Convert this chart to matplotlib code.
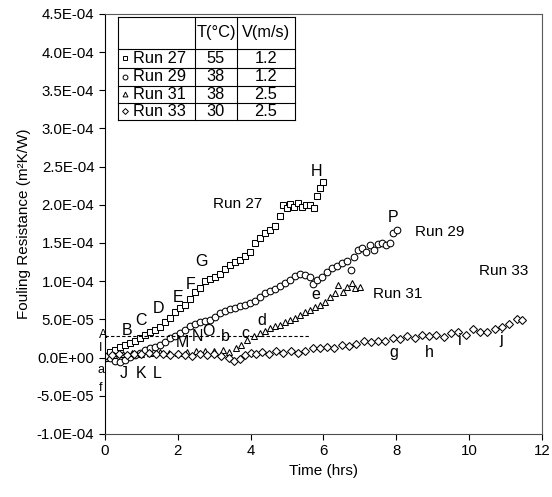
import numpy as np
import matplotlib
matplotlib.use("Agg")
import matplotlib.pyplot as plt
from matplotlib.ticker import FuncFormatter, MultipleLocator

plt.rcParams['font.family'] = ['Liberation Sans', 'DejaVu Sans']
plt.rcParams['font.size'] = 10

# ========== DATA (time in hrs, resistance in 1E-04 m2K/W) ==========

t27 = [0.0, 0.14, 0.27, 0.41, 0.55, 0.69, 0.82, 0.96, 1.10, 1.24, 1.37, 1.51, 1.65, 1.79,
       1.92, 2.06, 2.20, 2.34, 2.47, 2.61, 2.75, 2.88, 3.02, 3.16, 3.30, 3.43, 3.57, 3.71,
       3.85, 3.98, 4.12, 4.26, 4.40, 4.53, 4.67, 4.81, 4.89, 5.00, 5.08, 5.19, 5.30, 5.41,
       5.52, 5.63, 5.74, 5.82, 5.91, 5.99]
r27 = [0.02, 0.07, 0.10, 0.14, 0.16, 0.19, 0.22, 0.26, 0.30, 0.33, 0.36, 0.40, 0.46, 0.52,
       0.60, 0.65, 0.69, 0.77, 0.86, 0.91, 1.00, 1.03, 1.05, 1.09, 1.16, 1.21, 1.25, 1.28,
       1.33, 1.38, 1.50, 1.57, 1.63, 1.67, 1.72, 1.85, 2.00, 1.96, 2.01, 1.97, 2.02, 1.97,
       2.00, 2.00, 1.96, 2.11, 2.22, 2.30]

t29 = [0.0, 0.14, 0.27, 0.41, 0.55, 0.69, 0.82, 0.96, 1.10, 1.24, 1.37, 1.51, 1.65, 1.79,
       1.92, 2.06, 2.20, 2.34, 2.47, 2.61, 2.75, 2.88, 3.02, 3.16, 3.30, 3.43, 3.57, 3.71,
       3.85, 3.98, 4.12, 4.26, 4.40, 4.53, 4.67, 4.81, 4.95, 5.08, 5.22, 5.36, 5.49, 5.63,
       5.71, 5.82, 5.96, 6.10, 6.24, 6.37, 6.51, 6.65, 6.76, 6.84, 6.95, 7.06, 7.17, 7.28,
       7.39, 7.50, 7.61, 7.72, 7.83, 7.91, 8.02]
r29 = [0.00, 0.00, -0.04, -0.06, -0.03, 0.01, 0.03, 0.06, 0.10, 0.13, 0.14, 0.16, 0.20, 0.26,
       0.28, 0.32, 0.36, 0.41, 0.44, 0.47, 0.48, 0.49, 0.53, 0.58, 0.61, 0.64, 0.65, 0.68,
       0.69, 0.71, 0.74, 0.79, 0.84, 0.87, 0.90, 0.94, 0.98, 1.02, 1.07, 1.09, 1.08, 1.05,
       0.96, 1.02, 1.05, 1.12, 1.17, 1.20, 1.24, 1.26, 1.15, 1.31, 1.41, 1.44, 1.38, 1.47,
       1.41, 1.49, 1.50, 1.47, 1.50, 1.63, 1.67]

t31 = [0.0, 0.25, 0.5, 0.75, 1.0, 1.25, 1.5, 1.75, 2.0, 2.25, 2.5, 2.75, 3.0, 3.25, 3.4,
       3.6, 3.75, 3.9, 4.1, 4.26, 4.4, 4.53, 4.67, 4.81, 4.95, 5.08, 5.22, 5.36, 5.5, 5.63,
       5.77, 5.91, 6.04, 6.18, 6.32, 6.40, 6.54, 6.65, 6.79, 6.87, 7.0]
r31 = [0.0, 0.03, 0.05, 0.06, 0.05, 0.06, 0.07, 0.06, 0.06, 0.07, 0.08, 0.08, 0.09, 0.10, 0.07,
       0.12, 0.17, 0.23, 0.28, 0.32, 0.35, 0.39, 0.41, 0.43, 0.46, 0.49, 0.52, 0.56, 0.59, 0.62,
       0.66, 0.69, 0.73, 0.79, 0.84, 0.95, 0.86, 0.92, 0.98, 0.91, 0.92]

t33 = [0.0, 0.2, 0.4, 0.6, 0.8, 1.0, 1.2, 1.4, 1.6, 1.8, 2.0, 2.2, 2.4, 2.6, 2.8, 3.0, 3.2,
       3.4, 3.55, 3.7, 3.85, 4.0, 4.15, 4.3, 4.5, 4.7, 4.9, 5.1, 5.3, 5.5, 5.7, 5.9, 6.1,
       6.3, 6.5, 6.7, 6.9, 7.1, 7.3, 7.5, 7.7, 7.9, 8.1, 8.3, 8.5, 8.7, 8.9, 9.1, 9.3, 9.5,
       9.7, 9.9, 10.1, 10.3, 10.5, 10.7, 10.9, 11.1, 11.3, 11.45]
r33 = [0.02, 0.03, 0.05, 0.03, 0.05, 0.04, 0.06, 0.04, 0.05, 0.03, 0.05, 0.03, 0.02, 0.04,
       0.03, 0.05, 0.02, 0.00, -0.05, -0.02, 0.03, 0.06, 0.05, 0.07, 0.05, 0.08, 0.06, 0.09,
       0.06, 0.09, 0.13, 0.12, 0.14, 0.13, 0.16, 0.15, 0.18, 0.21, 0.20, 0.22, 0.21, 0.25,
       0.24, 0.28, 0.26, 0.30, 0.28, 0.30, 0.27, 0.32, 0.34, 0.30, 0.37, 0.33, 0.34, 0.38,
       0.40, 0.44, 0.50, 0.49]

runs     = ["Run 27", "Run 29", "Run 31", "Run 33"]
temps    = ["55", "38", "38", "30"]
vels     = ["1.2", "1.2", "2.5", "2.5"]
markers  = ["s", "o", "^", "D"]

# letters at the left edge of the axis (smaller)
edge_letters = ["A", "I", "a", "f"]
edge_x       = [-0.06, -0.11, -0.11, -0.11]
edge_y       = [0.30, 0.13, -0.16, -0.40]

# letter annotations in the plot (x hrs, y 1E-04)
letters   = ["B", "C", "D", "E", "F", "G", "H", "J", "K", "L", "M",
             "N", "O", "P", "b", "c", "d", "e", "g", "h", "i", "j"]
letter_x  = [0.60, 0.99, 1.46, 2.01, 2.34, 2.66, 5.82, 0.52,
             0.99, 1.43, 2.14, 2.55, 2.83, 7.91, 3.32, 3.85, 4.31, 5.80, 7.94, 8.90, 9.73, 10.88]
letter_y  = [0.36, 0.49, 0.64, 0.78, 0.96, 1.26, 2.43, -0.21,
             -0.21, -0.21, 0.20, 0.27, 0.34, 1.83, 0.27, 0.32, 0.48, 0.83, 0.06, 0.06, 0.22, 0.23]

run_lab_x = [3.63, 9.20, 8.05, 10.96]
run_lab_y = [2.01, 1.64, 0.83, 1.13]

ref_level = 0.28   # dashed reference line
ref_end   = 5.6

# ========== PLOTTING ==========

fig = plt.figure(figsize=(5.52, 4.97), dpi=100)
ax = fig.add_axes([0.190, 0.127, 0.792, 0.845])

series = [(t27, r27), (t29, r29), (t31, r31), (t33, r33)]
sizes = [4.8, 4.8, 5.0, 4.0]
for (t, r), m, ms in zip(series, markers, sizes):
    ax.plot(t, np.array(r) * 1e-4, linestyle="none", marker=m, ms=ms,
            mfc="white", mec="black", mew=0.75)

ax.plot([0, ref_end], [ref_level * 1e-4] * 2, "k--", lw=0.8, dashes=(3, 2))

for s, x, y in zip(edge_letters, edge_x, edge_y):
    ax.text(x, y * 1e-4, s, ha="center", va="center", fontsize=9)
for s, x, y in zip(letters, letter_x, letter_y):
    ax.text(x, y * 1e-4, s, ha="center", va="center", fontsize=11.5)
for s, x, y in zip(runs, run_lab_x, run_lab_y):
    ax.text(x, y * 1e-4, s, ha="center", va="center", fontsize=11)

ax.set_xlim(0, 12)
ax.set_ylim(-1e-4, 4.5e-4)
ax.xaxis.set_major_locator(MultipleLocator(2))
ax.yaxis.set_major_locator(MultipleLocator(5e-5))
ax.yaxis.set_major_formatter(FuncFormatter(lambda v, p: f"{v:.1E}"))
ax.tick_params(direction="out", length=4, width=0.8, labelsize=10.8)
for sp in ax.spines.values():
    sp.set_linewidth(0.8)
    sp.set_color("0.35")
ax.spines["left"].set_color("black")
ax.spines["bottom"].set_color("0.3")

ax.set_xlabel("Time (hrs)", fontsize=11)
ax.set_ylabel("Fouling Resistance (m²K/W)", fontsize=11)

# ========== INSET TABLE (axes fraction) ==========

cols = [0.0297, 0.206, 0.302, 0.435]
rows = [0.993, 0.917, 0.871, 0.829, 0.788, 0.748]
tr = ax.transAxes
kw = dict(color="black", lw=0.8, transform=tr, clip_on=False)
for y in rows:
    ax.plot([cols[0], cols[-1]], [y, y], **kw)
for x in cols:
    ax.plot([x, x], [rows[0], rows[-1]], **kw)

hy = (rows[0] + rows[1]) / 2
fs = 11.8
ax.text((cols[1] + cols[2]) / 2, hy, "T(°C)", ha="center", va="center", transform=tr, fontsize=fs)
ax.text((cols[2] + cols[3]) / 2, hy, "V(m/s)", ha="center", va="center", transform=tr, fontsize=fs)
for i in range(4):
    yc = (rows[i + 1] + rows[i + 2]) / 2
    ax.plot([cols[0] + 0.016], [yc], marker=markers[i], ms=3.5 if markers[i] != "D" else 3,
            mfc="white", mec="black", mew=0.7, transform=tr, clip_on=False)
    ax.text(cols[0] + 0.035, yc, runs[i], ha="left", va="center", transform=tr, fontsize=fs)
    ax.text((cols[1] + cols[2]) / 2, yc, temps[i], ha="center", va="center", transform=tr, fontsize=fs)
    ax.text((cols[2] + cols[3]) / 2, yc, vels[i], ha="center", va="center", transform=tr, fontsize=fs)

fig.savefig("out.png", dpi=100)
